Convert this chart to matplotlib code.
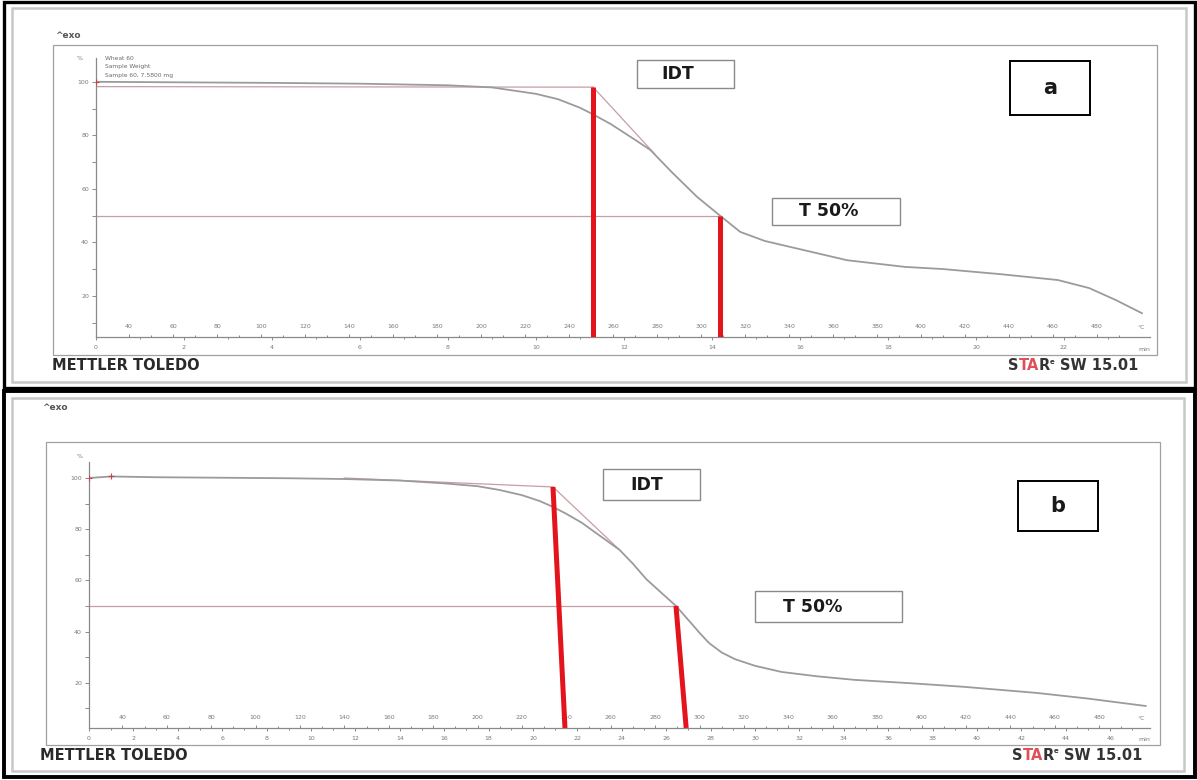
import matplotlib
matplotlib.use("Agg")
import matplotlib.pyplot as plt
from matplotlib.patches import Rectangle

W, H = 1197, 780

# ---------------- panel a (heating 20 K/min) ----------------
time_a = [0, 1, 2, 4, 6, 8, 9, 10, 10.5, 11, 11.3, 11.7, 12, 12.3, 12.6,
          13.1, 13.66, 14.18, 14.64, 15.2, 15.77, 17.07, 18.39, 19.25,
          20.55, 21.86, 22.57, 23.18, 23.77]
mass_a = [100, 99.9, 99.8, 99.6, 99.3, 98.7, 97.9, 95.5, 93.5, 90.3, 87.8,
          84.2, 81.0, 77.8, 74.5, 66.0, 57.0, 50.0, 43.9, 40.5, 38.3, 33.3,
          30.8, 30.0, 28.1, 25.9, 22.9, 18.4, 13.5]
base_time_a = [0.0, 11.3]
base_mass_a = [98.2, 98.0]
tan_time_a = [11.3, 12.7]
tan_mass_a = [98.0, 73.0]
idt_time_a, idt_mass_a, idt_foot_a = 11.3, 98.0, 11.3
t50_time_a, t50_foot_a = 14.18, 14.18
rate_a = 20.0
time_ticks_a = list(range(0, 23, 2))

# ---------------- panel b (heating 10 K/min) ----------------
time_b = [0, 1, 3, 6, 9, 11.5, 14, 16, 17.5, 18.5, 19.5, 20.3, 20.9, 21.5,
          22.2, 23.0, 23.9, 24.5, 25.1, 25.8, 26.44, 27.1, 27.5, 27.93, 28.5,
          29.1, 30.0, 31.2, 32.8, 34.5, 37.0, 39.4, 42.7, 45.0, 47.6]
mass_b = [100, 100.6, 100.3, 100.1, 99.9, 99.6, 99.0, 97.9, 96.8, 95.3,
          93.3, 91.0, 88.7, 86.0, 82.5, 77.5, 71.9, 66.5, 60.5, 55.0, 50.0,
          43.5, 39.5, 35.5, 31.8, 29.2, 26.6, 24.2, 22.5, 21.1, 19.8, 18.4,
          16.0, 13.8, 10.9]
base_time_b = [11.5, 20.9]
base_mass_b = [100.0, 96.5]
tan_time_b = [20.9, 23.9]
tan_mass_b = [96.5, 71.9]
idt_time_b, idt_mass_b, idt_foot_b = 20.9, 96.5, 21.44
t50_time_b, t50_foot_b = 26.44, 26.9
rate_b = 10.0
time_ticks_b = list(range(0, 47, 2))

start_temp = 25.0
temp_ticks = list(range(40, 481, 20))
mass_ticks = [20, 40, 60, 80, 100]
mass_labels = ["20", "40", "60", "80", "100"]

CURVE = "#9b9b9b"
THIN = "#c79ea2"
RED = "#e3141c"
AXC = "#8a8a8a"
TXT = "#7a7a7a"
DARK = "#333333"

fig = plt.figure(figsize=(W / 100, H / 100), dpi=100)
fig.patch.set_facecolor("white")


def fx(x):
    return x / W


def fy(y):
    return 1 - y / H


def rect(x0, y0, x1, y1, **kw):
    fig.add_artist(Rectangle((fx(x0), fy(y1)), (x1 - x0) / W, (y1 - y0) / H,
                             transform=fig.transFigure, fill=False, **kw))


def make_panel(px, times, masses, rate, tticks, ylim, base, tan, idt, t50,
               markers):
    left, right, top, bottom = px
    ax = fig.add_axes([fx(left), fy(bottom), (right - left) / W,
                       (bottom - top) / H])
    ax.set_facecolor("none")
    for s in ("top", "right"):
        ax.spines[s].set_visible(False)
    for s in ("left", "bottom"):
        ax.spines[s].set_color(AXC)
        ax.spines[s].set_linewidth(0.9)

    ax.plot(base[0], base[1], color=THIN, lw=0.9, zorder=2)
    ax.plot(tan[0], tan[1], color=THIN, lw=0.9, zorder=2)
    ax.plot([0, t50[0]], [50, 50], color=THIN, lw=0.9, zorder=2)
    ax.plot(times, masses, color=CURVE, lw=1.3, zorder=3)

    ax.set_ylim(*ylim)
    # thick marker lines for IDT and T 50%
    ax.plot([idt[0], idt[2]], [idt[1], ylim[0]], color=RED, lw=3.6,
            solid_capstyle="butt", zorder=4)
    ax.plot([t50[0], t50[1]], [50, ylim[0]], color=RED, lw=3.6,
            solid_capstyle="butt", zorder=4)
    ax.plot(markers[0], markers[1], ls="none", marker="+", ms=4, mew=0.8,
            color="#d23c4a", zorder=5)

    ax.set_yticks(mass_ticks)
    ax.set_yticklabels(mass_labels)
    ax.set_yticks([10, 30, 50, 70, 90], minor=True)
    ax.tick_params(axis="y", which="both", direction="out", colors=AXC,
                   labelcolor=TXT, labelsize=4.5, length=3, width=0.7, pad=2)
    ax.set_xticks(tticks)
    ax.set_xticks([t + 1 for t in tticks], minor=True)
    ax.tick_params(axis="x", which="both", direction="out", colors=AXC,
                   labelcolor=TXT, labelsize=4.5, length=2.5, width=0.7,
                   pad=3.5)
    ax.tick_params(axis="x", which="minor", length=1.5)

    sec = ax.secondary_xaxis(0, functions=(lambda t: start_temp + rate * t,
                                           lambda T: (T - start_temp) / rate))
    sec.set_xticks(temp_ticks)
    sec.set_xticks([T + 10 for T in temp_ticks], minor=True)
    sec.tick_params(axis="x", which="both", direction="in", colors=AXC,
                    labelcolor=TXT, labelsize=4.5, length=2.5, width=0.7,
                    pad=-9.5)
    sec.tick_params(axis="x", which="minor", length=1.5)
    sec.spines["bottom"].set_visible(False)

    ax.text(1.0, -0.045, "min", transform=ax.transAxes, ha="right",
            va="center", fontsize=4.5, color=TXT)
    ax.text(0.995, 0.035, "°C", transform=ax.transAxes, ha="right",
            va="center", fontsize=4.5, color=TXT)
    return ax


# ---------------- frames ----------------
rect(4, 2, 1195, 388, edgecolor="black", lw=2.4)
rect(4, 391, 1195, 777, edgecolor="black", lw=2.8)
rect(12, 8, 1186, 382, edgecolor="#c8c8c8", lw=1.8)
rect(12, 398, 1184, 771, edgecolor="#c8c8c8", lw=1.8)
rect(53, 45, 1157, 355, edgecolor="#a0a0a0", lw=0.9)
rect(46, 442, 1160, 745, edgecolor="#a0a0a0", lw=0.9)

# ---------------- panel a ----------------
ax_a = make_panel((96, 1150, 58, 337), time_a, mass_a, rate_a, time_ticks_a,
                  (4.6, 108.9), (base_time_a, base_mass_a),
                  (tan_time_a, tan_mass_a),
                  (idt_time_a, idt_mass_a, idt_foot_a),
                  (t50_time_a, t50_foot_a), ([0], [100]))
ax_a.set_xlim(0, (1150 - 96) / 44.0)

# ---------------- panel b ----------------
ax_b = make_panel((89, 1150, 462, 728), time_b, mass_b, rate_b, time_ticks_b,
                  (2.3, 106.25), (base_time_b, base_mass_b),
                  (tan_time_b, tan_mass_b),
                  (idt_time_b, idt_mass_b, idt_foot_b),
                  (t50_time_b, t50_foot_b), ([0, 1], [100, 100.6]))
ax_b.set_xlim(0, (1150 - 89) / 22.2)

# ---------------- header texts ----------------
for (x, y) in [(55, 35), (42, 408)]:
    fig.text(fx(x), fy(y), "^exo", fontsize=6.5, color="#555555",
             fontweight="bold", ha="left", va="center")
for (x, y) in [(80, 58), (80, 457)]:
    fig.text(fx(x), fy(y), "%", fontsize=4.5, color=TXT, ha="center",
             va="center")
for i, line in enumerate(["Wheat 60", "Sample Weight",
                          "Sample 60, 7.5800 mg"]):
    fig.text(fx(105), fy(58 + 8.5 * i), line, fontsize=4.3, color="#6a6a6a",
             ha="left", va="center")


# ---------------- boxes ----------------
def box(x0, y0, x1, y1, label, tx, fs, ec="#8a8a8a", lw=1.0):
    rect(x0, y0, x1, y1, edgecolor=ec, lw=lw)
    fig.text(fx(tx), fy((y0 + y1) / 2), label, fontsize=fs, ha="center",
             va="center", fontweight="bold", family="DejaVu Sans",
             color="#1a1a1a")


box(637, 60, 734, 88, "IDT", 678, 12.5)
box(772, 198, 900, 225, "T 50%", 829, 12.5)
box(1010, 61, 1090, 115, "a", 1050, 15, ec="black", lw=1.4)
box(603, 469, 700, 500, "IDT", 647, 12.5)
box(755, 591, 902, 622, "T 50%", 813, 12.5)
box(1018, 481, 1098, 531, "b", 1058, 15, ec="black", lw=1.4)

# ---------------- footers ----------------
for (y, xl, xr) in [(366, 52, 1008), (755, 40, 1012)]:
    fig.text(fx(xl), fy(y), "METTLER TOLEDO", fontsize=10.5,
             fontweight="bold", family="DejaVu Sans", color="#2a2a2a",
             ha="left", va="center")
    s = fig.text(fx(xr), fy(y), "S", fontsize=10.5, fontweight="bold",
                 color=DARK, ha="left", va="center")
    ta = fig.text(0, 0, "", fontsize=10.5)
    ta = plt.annotate("TA", xy=(1, 0), xycoords=s, fontsize=10.5,
                      fontweight="bold", color="#e0505a", ha="left",
                      va="bottom", annotation_clip=False)
    r = plt.annotate("R", xy=(1, 0), xycoords=ta, fontsize=10.5,
                     fontweight="bold", color=DARK, ha="left", va="bottom",
                     annotation_clip=False)
    plt.annotate("e", xy=(1, 0.55), xycoords=r, fontsize=5,
                 fontweight="bold", color=DARK, ha="left", va="bottom",
                 annotation_clip=False)
    plt.annotate("SW 15.01", xy=(1, 0), xycoords=r, xytext=(7, 0),
                 textcoords="offset points", fontsize=10.5,
                 fontweight="bold", color=DARK, ha="left", va="bottom",
                 annotation_clip=False)

fig.savefig("out.png", dpi=100, facecolor="white")
